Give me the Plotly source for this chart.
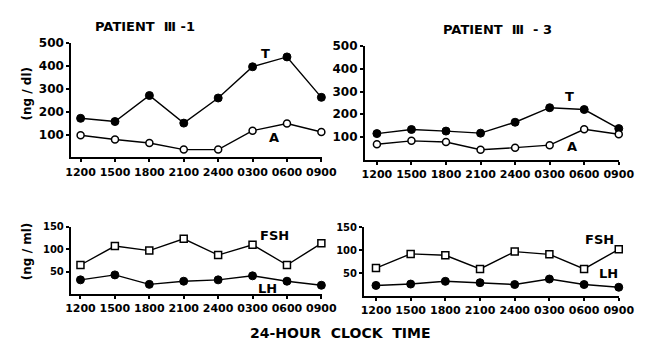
import plotly.graph_objects as go

times = ["1200", "1500", "1800", "2100", "2400", "0300", "0600", "0900"]

p1_T = [171, 157, 271, 150, 260, 397, 440, 263]
p1_A = [97, 78, 63, 34, 34, 117, 148, 111]
p3_T = [115, 133, 126, 117, 165, 229, 221, 137]
p3_A = [68, 83, 78, 44, 53, 64, 134, 112]

p1_FSH = [65, 107, 97, 123, 87, 110, 65, 113]
p1_LH = [32, 43, 22, 29, 32, 41, 29, 20]
p3_FSH = [61, 92, 89, 59, 97, 91, 59, 102]
p3_LH = [23, 26, 32, 29, 25, 37, 25, 19]

W, H = 648, 341
idx = list(range(len(times)))

fig = go.Figure()

def filled(sym="circle"):
    return dict(symbol=sym, size=8, color="black", line=dict(color="black", width=1))

def opened(sym="circle"):
    return dict(symbol=sym, size=7, color="white", line=dict(color="black", width=1.5))

line = dict(color="black", width=1.4)

series = [
    (p1_T, "x", "y", filled()),
    (p1_A, "x", "y", opened()),
    (p3_T, "x2", "y2", filled()),
    (p3_A, "x2", "y2", opened()),
    (p1_FSH, "x3", "y3", opened("square")),
    (p1_LH, "x3", "y3", filled()),
    (p3_FSH, "x4", "y4", opened("square")),
    (p3_LH, "x4", "y4", filled()),
]
for vals, xa, ya, mk in series:
    fig.add_trace(go.Scatter(x=idx, y=vals, xaxis=xa, yaxis=ya, mode="lines+markers",
                             line=line, marker=mk, showlegend=False, cliponaxis=False))

def px(x):
    return x / W

def py(y):
    return 1 - y / H

def tf(size):
    return dict(family="DejaVu Sans", size=size, color="black", weight="bold")

common_x = dict(tickmode="array", tickvals=idx, ticktext=times, showline=True, linecolor="black",
                linewidth=2, ticks="outside", ticklen=3, tickwidth=1.5, tickcolor="black",
                showgrid=False, zeroline=False, tickfont=tf(11))
common_y = dict(showline=True, linecolor="black", linewidth=2, ticks="outside", ticklen=3,
                tickcolor="black", tickwidth=1.5, showgrid=False, zeroline=False)

fig.update_layout(
    width=W, height=H, margin=dict(l=0, r=0, t=0, b=0),
    paper_bgcolor="white", plot_bgcolor="white",
    xaxis=dict(domain=[px(67.5), px(327)], range=[-0.27, 7.03], anchor="y", **common_x),
    yaxis=dict(domain=[py(153.5), py(37)], range=[0, 500], anchor="x", tickvals=[100, 200, 300, 400, 500],
               tickfont=tf(12), **common_y),
    xaxis2=dict(domain=[px(371), px(634)], range=[-0.345, 7.02], anchor="y2", **common_x),
    yaxis2=dict(domain=[py(155.9), py(40)], range=[0, 500], anchor="x2", tickvals=[100, 200, 300, 400, 500],
                tickfont=tf(12), **common_y),
    xaxis3=dict(domain=[px(67), px(327)], range=[-0.28, 7.03], anchor="y3", **common_x),
    yaxis3=dict(domain=[py(293.3), py(224.3)], range=[0, 150], anchor="x3", tickvals=[50, 100, 150],
                tickfont=tf(10), **common_y),
    xaxis4=dict(domain=[px(370), px(634)], range=[-0.345, 7.02], anchor="y4", **common_x),
    yaxis4=dict(domain=[py(295), py(225)], range=[0, 150], anchor="x4", tickvals=[50, 100, 150],
                tickfont=tf(10), **common_y),
)

def ann(text, x, y, size=12, angle=0):
    fig.add_annotation(text=text, x=px(x), y=py(y), xref="paper", yref="paper",
                       showarrow=False, textangle=angle,
                       font=dict(family="DejaVu Sans", size=size, color="black", weight="bold"),
                       xanchor="center", yanchor="middle")

ann("PATIENT  Ⅲ -1", 144, 20, size=13)
ann("PATIENT  Ⅲ  - 3", 508, 23, size=13)
ann("24-HOUR  CLOCK  TIME", 346, 333, size=14)
ann("(ng / dl)", 22, 88, size=12, angle=-90)
ann("(ng / ml)", 22, 250, size=12, angle=-90)
ann("T", 268, 47, size=13)
ann("A", 277, 133, size=13)
ann("T", 582, 91, size=13)
ann("A", 585, 142, size=13)
ann("FSH", 278, 233, size=13)
ann("LH", 270, 287, size=13)
ann("FSH", 613, 237, size=13)
ann("LH", 623, 272, size=13)

fig.write_html("out.html", config={"displayModeBar": False},
               post_script="document.body.style.margin='0';document.body.style.padding='0';")
